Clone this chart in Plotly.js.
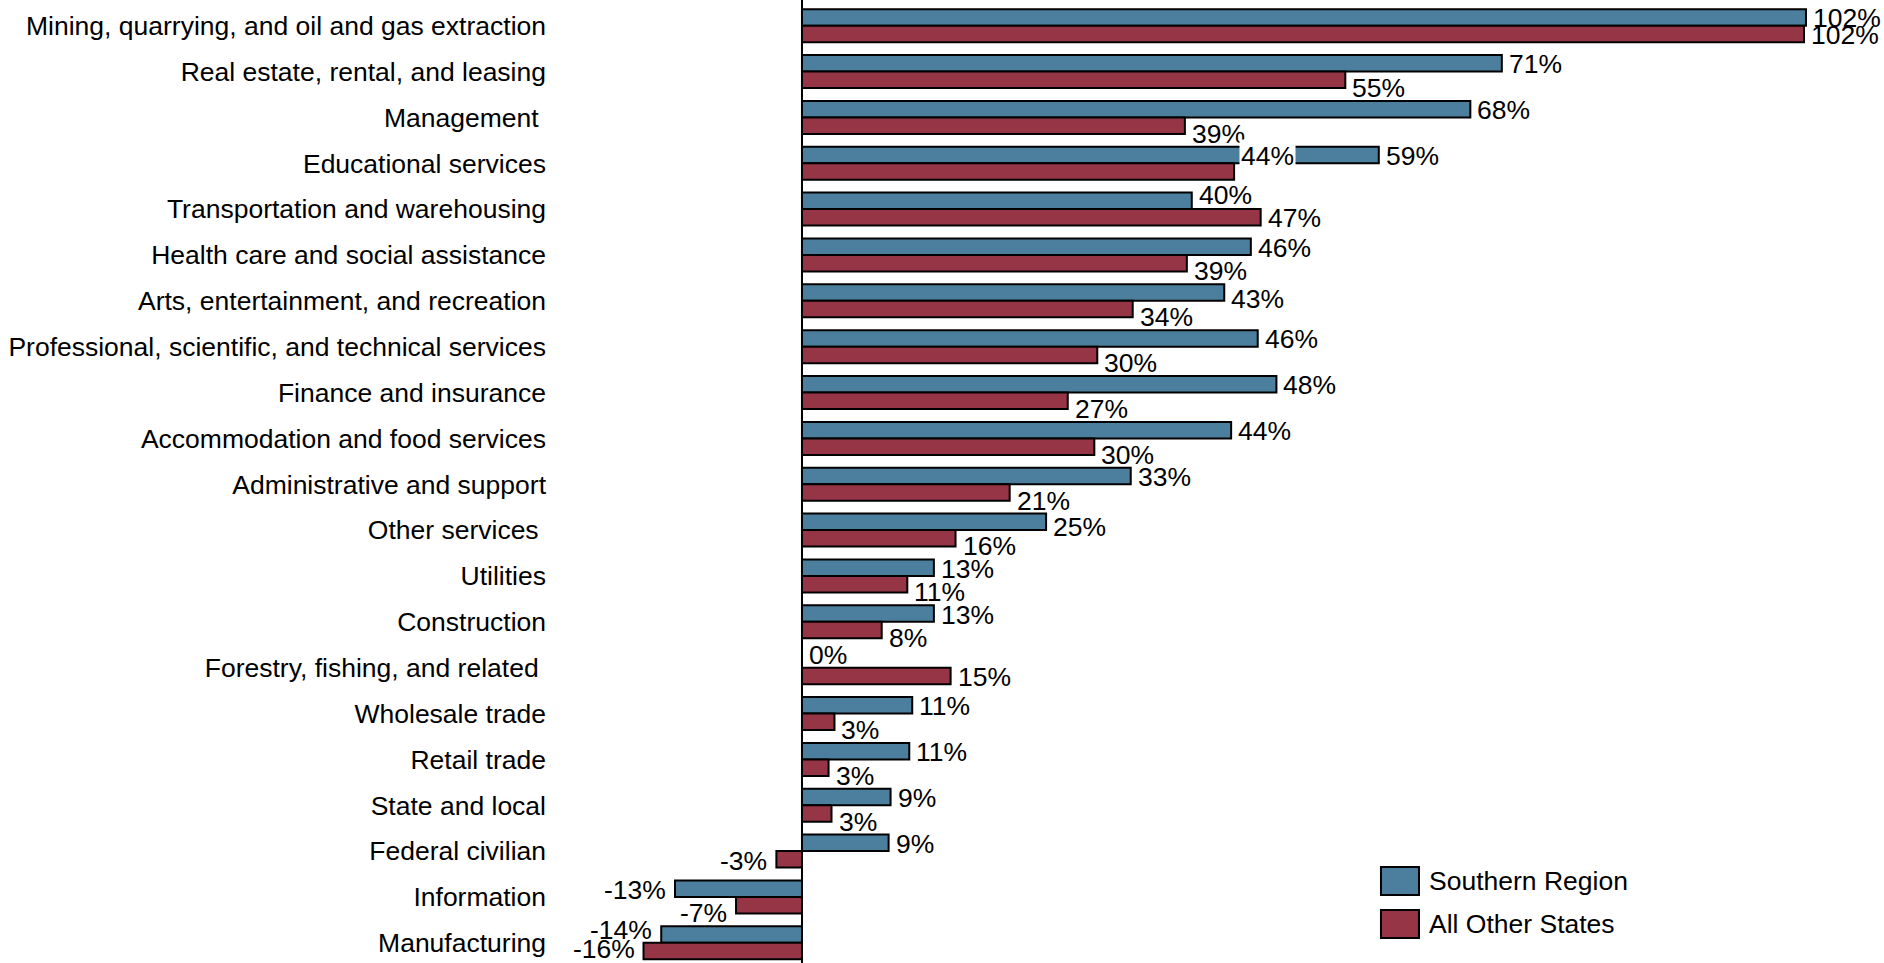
<!DOCTYPE html>
<html>
<head>
<meta charset="utf-8">
<script src="https://cdn.plot.ly/plotly-3.0.1.min.js"></script>
<style>
  html, body { margin: 0; padding: 0; background: #fff; }
  #chart { width: 1884px; height: 963px; }
</style>
</head>
<body>
<div id="chart"></div>
<script>
const categories = [
  "Mining, quarrying, and oil and gas extraction",
  "Real estate, rental, and leasing",
  "Management\u00a0",
  "Educational services",
  "Transportation and warehousing",
  "Health care and social assistance",
  "Arts, entertainment, and recreation",
  "Professional, scientific, and technical services",
  "Finance and insurance",
  "Accommodation and food services",
  "Administrative and support",
  "Other services\u00a0",
  "Utilities",
  "Construction",
  "Forestry, fishing, and related\u00a0",
  "Wholesale trade",
  "Retail trade",
  "State and local",
  "Federal civilian",
  "Information",
  "Manufacturing"
];
const seriesNames = ["Southern Region", "All Other States"];
const southern = [102.0, 71.1, 67.9, 58.6, 39.6, 45.6, 42.9, 46.3, 48.2, 43.6, 33.4, 24.8, 13.4, 13.4, 0, 11.2, 10.9, 9.0, 8.8, -12.9, -14.3];
const otherStates = [101.8, 55.2, 38.9, 43.9, 46.6, 39.1, 33.6, 30.0, 27.0, 29.7, 21.1, 15.6, 10.7, 8.1, 15.1, 3.3, 2.7, 3.0, -2.6, -6.7, -16.1];

const colors = ["#4B7F9D", "#953546"];
const FONT = "Liberation Sans, Arial, sans-serif";
const FS = 26.5;

// label vertical nudges (px, positive = down), layout only
const blueDefault = 1, redDefault = 8;
const blueNudge = {4: -6, 6: 6, 11: 5, 14: -4, 20: -5};
const redNudge = {0: 1, 3: -16, 4: 1, 14: 1, 18: 2, 20: -2};
const whiteBg = {red: {3: true}};

const bargap = 0.28;
const half = (1 - bargap) / 4; // center offset of each bar within group

const traces = [southern, otherStates].map((vals, k) => ({
  type: "bar",
  orientation: "h",
  name: seriesNames[k],
  y: categories,
  x: vals,
  marker: { color: colors[k], line: { color: "#000", width: 2 } },
  hoverinfo: "x+y",
  showlegend: false
}));

const annotations = [];
[southern, otherStates].forEach((vals, k) => {
  vals.forEach((v, i) => {
    const neg = v < 0;
    let ys;
    if (k === 0) ys = (i in blueNudge) ? blueNudge[i] : blueDefault;
    else ys = (i in redNudge) ? redNudge[i] : redDefault;
    const bg = (k === 1 && whiteBg.red[i]) ? "#fff" : "rgba(0,0,0,0)";
    annotations.push({
      xref: "x", yref: "y",
      x: v,
      y: i + (k === 0 ? -half : half),
      text: Math.round(v) + "%",
      showarrow: false,
      xanchor: neg ? "right" : "left",
      yanchor: "middle",
      xshift: neg ? -7 : 5,
      yshift: -ys,
      bgcolor: bg,
      borderpad: 1,
      font: { family: FONT, size: FS, color: "#000" }
    });
  });
});

// custom legend (large swatches)
const legendItems = [
  { y0: 0.0706, y1: 0.0997, ty: 0.0852 },
  { y0: 0.0260, y1: 0.0550, ty: 0.0405 }
];
const shapes = [];
legendItems.forEach((it, k) => {
  shapes.push({
    type: "rect", xref: "paper", yref: "paper",
    x0: 0.6492, x1: 0.6789, y0: it.y0, y1: it.y1,
    fillcolor: colors[k], line: { color: "#000", width: 2 }
  });
  annotations.push({
    xref: "paper", yref: "paper", x: 0.6852, y: it.ty,
    xanchor: "left", yanchor: "middle", showarrow: false,
    text: seriesNames[k],
    font: { family: FONT, size: FS, color: "#000" }
  });
});

const layout = {
  width: 1884, height: 963,
  margin: { l: 550, r: 54, t: 0, b: 0, pad: 0 },
  paper_bgcolor: "#fff", plot_bgcolor: "#fff",
  barmode: "group", bargap: bargap, bargroupgap: 0,
  showlegend: false,
  font: { family: FONT, size: FS, color: "#000" },
  xaxis: {
    range: [-25.6, 104.44],
    showgrid: false, showticklabels: false, ticks: "",
    zeroline: true, zerolinecolor: "#000", zerolinewidth: 1.5,
    showline: false, fixedrange: true
  },
  yaxis: {
    type: "category", range: [20.44, -0.56],
    showgrid: false, zeroline: false, showline: false, ticks: "",
    ticklabelstandoff: 3,
    tickfont: { family: FONT, size: FS, color: "#000" },
    fixedrange: true
  },
  annotations: annotations,
  shapes: shapes
};

Plotly.newPlot("chart", traces, layout, { displayModeBar: false, staticPlot: true });
</script>
</body>
</html>
